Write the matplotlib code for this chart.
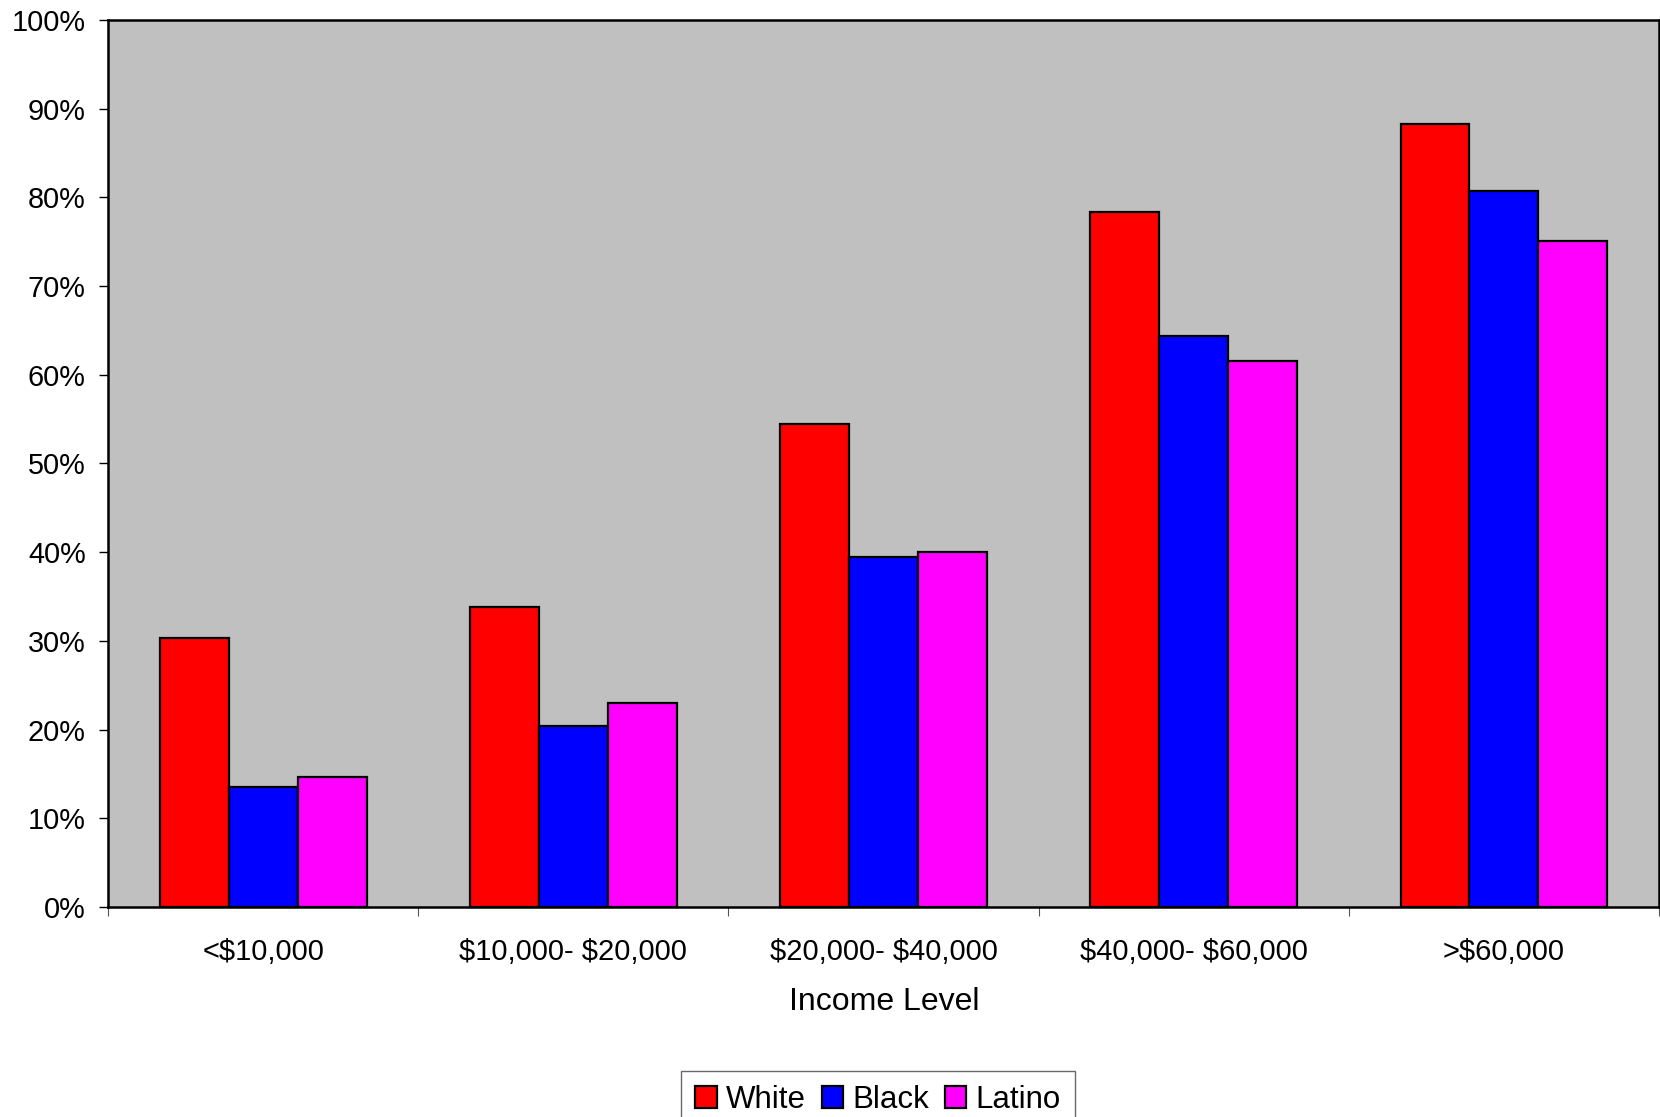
import matplotlib
matplotlib.use("Agg")
import matplotlib.pyplot as plt
import numpy as np

categories = ["<$10,000", "$10,000- $20,000", "$20,000- $40,000", "$40,000- $60,000", ">$60,000"]
white = [30.3, 33.8, 54.5, 78.3, 88.3]
black = [13.5, 20.4, 39.5, 64.4, 80.7]
latino = [14.7, 23.0, 40.0, 61.5, 75.1]
series_names = ["White", "Black", "Latino"]
series_colors = ["#FF0000", "#0000FF", "#FF00FF"]
yticks = [0, 10, 20, 30, 40, 50, 60, 70, 80, 90, 100]

plt.rcParams['font.family'] = ['Liberation Sans', 'DejaVu Sans']
plt.rcParams['text.parse_math'] = False

W, H = 1660, 1117
fig = plt.figure(figsize=(W / 100, H / 100), dpi=100)
ax = fig.add_axes([108 / W, 1 - 907 / H, 1551 / W, 887 / H])
ax.set_facecolor("#C0C0C0")

x = np.arange(len(categories))
bw = 1 / 4.5
for i, (vals, name, col) in enumerate(zip([white, black, latino], series_names, series_colors)):
    ax.bar(x + (i - 1) * bw, vals, width=bw, color=col, edgecolor="black",
           linewidth=1.6, label=name, zorder=3)

ax.set_xlim(-0.5, len(categories) - 0.5)
ax.set_ylim(0, 100)
ax.set_yticks(yticks)
ax.set_yticklabels([f"{v}%" for v in yticks], fontsize=20.8)
ax.tick_params(axis="y", direction="out", length=6.5, width=1, pad=9.5, colors="black")

ax.set_xticks(x)
ax.set_xticklabels(categories, fontsize=21)
ax.tick_params(axis="x", which="major", length=0, pad=22)
ax.set_xticks(np.arange(-0.5, len(categories), 1.0), minor=True)
ax.tick_params(axis="x", which="minor", direction="out", length=6.5, width=0.8, color="#555555")

for s in ax.spines.values():
    s.set_linewidth(1.8)
    s.set_color("black")

fig.text(884 / W, 1 - 1002 / H, "Income Level", fontsize=23, ha="center", va="center")

leg = ax.legend(loc="upper center", bbox_to_anchor=(878 / W, 1 - 1071 / H),
                bbox_transform=fig.transFigure, ncol=3, fontsize=22.5,
                frameon=True, fancybox=False, shadow=False, edgecolor="#444444",
                handlelength=0.68, handleheight=0.68, handletextpad=0.3,
                columnspacing=0.5, borderpad=0.45, borderaxespad=0)
leg.get_frame().set_linewidth(1.0)

fig.savefig("out.png", dpi=100, facecolor="white")
